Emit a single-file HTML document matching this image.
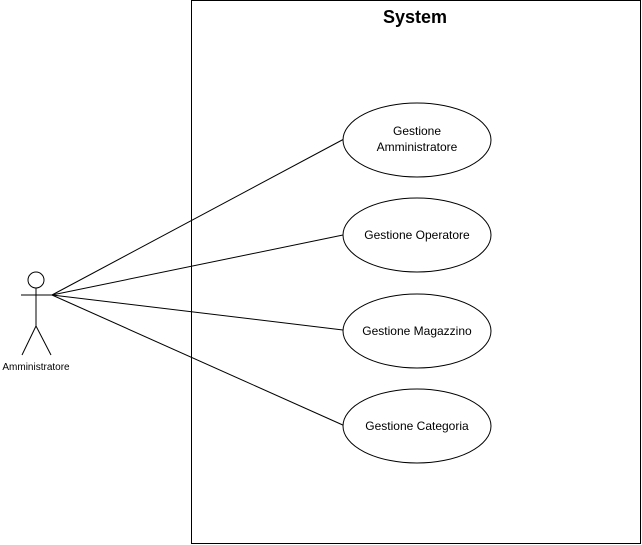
<!DOCTYPE html>
<html><head><style>
html,body{margin:0;padding:0;background:#fff;}
svg{display:block;}
text{font-family:"Liberation Sans",Arial,sans-serif;}
</style></head><body>
<svg width="642" height="545" viewBox="0 0 642 545" xmlns="http://www.w3.org/2000/svg">
<rect x="191.5" y="0.5" width="449" height="543" fill="#fff" stroke="#000" stroke-width="1"/>
<text x="415" y="23" font-size="18" font-weight="bold" text-anchor="middle">System</text>
<g stroke="#000" stroke-width="1" fill="none">
<line x1="52" y1="295" x2="344" y2="139"/>
<line x1="52" y1="295" x2="343" y2="235"/>
<line x1="52" y1="295" x2="343" y2="330"/>
<line x1="52" y1="295" x2="345" y2="426"/>
</g>
<g stroke="#000" stroke-width="1" fill="#fff">
<ellipse cx="417" cy="140" rx="74" ry="37"/>
<ellipse cx="417" cy="235" rx="74" ry="37"/>
<ellipse cx="417" cy="331" rx="74" ry="37"/>
<ellipse cx="417" cy="426" rx="74" ry="37"/>
</g>
<g font-size="12" text-anchor="middle" fill="#000">
<text x="417" y="135">Gestione</text>
<text x="417" y="151">Amministratore</text>
<text x="417" y="239">Gestione Operatore</text>
<text x="417" y="335">Gestione Magazzino</text>
<text x="417" y="430">Gestione Categoria</text>
</g>
<g stroke="#000" stroke-width="1" fill="none">
<circle cx="36" cy="280" r="8"/>
<line x1="36" y1="288" x2="36" y2="326"/>
<line x1="21" y1="295" x2="52" y2="295"/>
<line x1="36" y1="326" x2="22" y2="355"/>
<line x1="36" y1="326" x2="51" y2="355"/>
</g>
<text x="36" y="370" font-size="10" text-anchor="middle">Amministratore</text>
</svg>
</body></html>
